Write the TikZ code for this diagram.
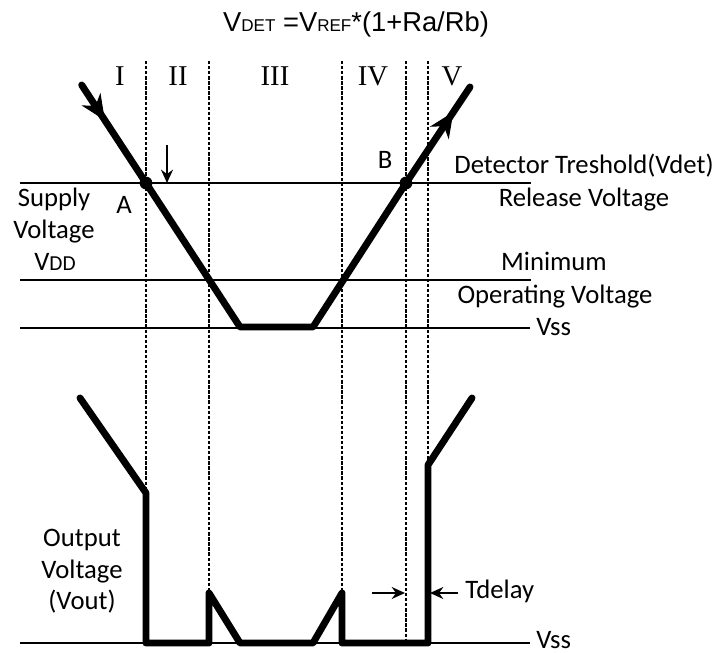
\documentclass[tikz,border=0pt]{standalone}
\usepackage{fontspec}
\setmainfont{Carlito}
\newfontfamily\arialfont{Liberation Sans}
\newfontfamily\timesfont{Liberation Serif}
\usetikzlibrary{arrows.meta,calc}

\begin{document}
\begin{tikzpicture}[x=0.75pt,y=-0.75pt,
    sig/.style={line width=5.2pt,line cap=round,line join=round},
    level/.style={line width=1.4pt},
    sep/.style={line width=0.9pt,dash pattern=on 2.5pt off 1.3pt},
    lbl/.style={font=\fontsize{20}{24}\selectfont,inner sep=0pt,anchor=base},
    zone/.style={font=\timesfont\fontsize{21.5}{24}\selectfont,inner sep=0pt,anchor=base},
    pin/.style={-{Stealth[length=10pt,width=9pt]},line width=1.2pt}]
\useasboundingbox (0,0) rectangle (718,653);

% formula
\node[inner sep=0pt,anchor=base,font=\arialfont\fontsize{20.5}{24}\selectfont] (form) at (356,31.7)
  {V{\fontsize{12.8}{14}\selectfont DET} =V{\fontsize{12.8}{14}\selectfont REF}*(1+Ra/Rb)};

% regions
\foreach \nm/\xx in {I/120,II/178,III/275,IV/373,V/452}
  \node[zone] (z\nm) at (\xx,85) {\nm};
\foreach \xx/\yb in {146/493,209/593,342/593,406/643,428/465}
  \draw[sep] (\xx,61) -- (\xx,\yb);

% levels
\draw[level] (20,183) -- (531,183);
\draw[level] (20,280) -- (531,280);
\draw[level] (20,328) -- (530,328);
\draw[level] (20,643) -- (530,643);

% supply voltage
\coordinate (vin) at (81.7,85);
\coordinate (A) at (146,183);
\coordinate (B) at (406,183);
\coordinate (vend) at (470,87);
\draw[sig] (vin) -- (A) -- (240,327) -- (313,327) -- (B) -- (vend);
\draw[line width=1pt,-{Stealth[length=19pt,width=17pt]}] (vin) -- ($(vin)!0.36!(A)$);
\draw[line width=1pt,-{Stealth[length=19pt,width=17pt]}] (B) -- ($(B)!0.74!(vend)$);
\fill (A) circle (4.8pt);
\fill (B) circle (4.8pt);
\coordinate (trip) at (167,145);
\draw[pin] (trip) -- (trip |- A);

% output voltage
\coordinate (oin) at (80,398);
\coordinate (oend) at (472,398);
\draw[sig] (oin) -- (146,493) -- (146,643) -- (209,643) -- (209,593) -- (240,643)
  -- (313,643) -- (342,593) -- (342,643) -- (428,643) -- (428,465) -- (oend);
\coordinate (dl) at (372,593);
\coordinate (dr) at (458,593);
\draw[pin] (dl) -- (405,593);
\draw[pin] (dr) -- (430,593);

% labels
\node[lbl] (lA) at (124,213) {A};
\node[lbl] (lB) at (385,168) {B};
\node[lbl] (sup1) at (54,206.7) {Supply};
\node[lbl] (sup2) at (54,238) {Voltage};
\node[lbl] (sup3) at (55,270) {V{\fontsize{16}{18}\selectfont DD}};
\node[lbl] (det) at (584,173) {Detector Treshold(Vdet)};
\node[lbl] (rel) at (584,206.7) {Release Voltage};
\node[lbl] (minv) at (554,270) {Minimum};
\node[lbl] (opv) at (555,303) {Operating Voltage};
\node[lbl,anchor=base west] (vssa) at (536,335) {Vss};
\node[lbl] (out1) at (82,546.7) {Output};
\node[lbl] (out2) at (82,578) {Voltage};
\node[lbl] (out3) at (82,609) {(Vout)};
\node[lbl,anchor=base west] (tdl) at (465,598) {Tdelay};
\node[lbl,anchor=base west] (vssb) at (536,648) {Vss};
\end{tikzpicture}
\end{document}
